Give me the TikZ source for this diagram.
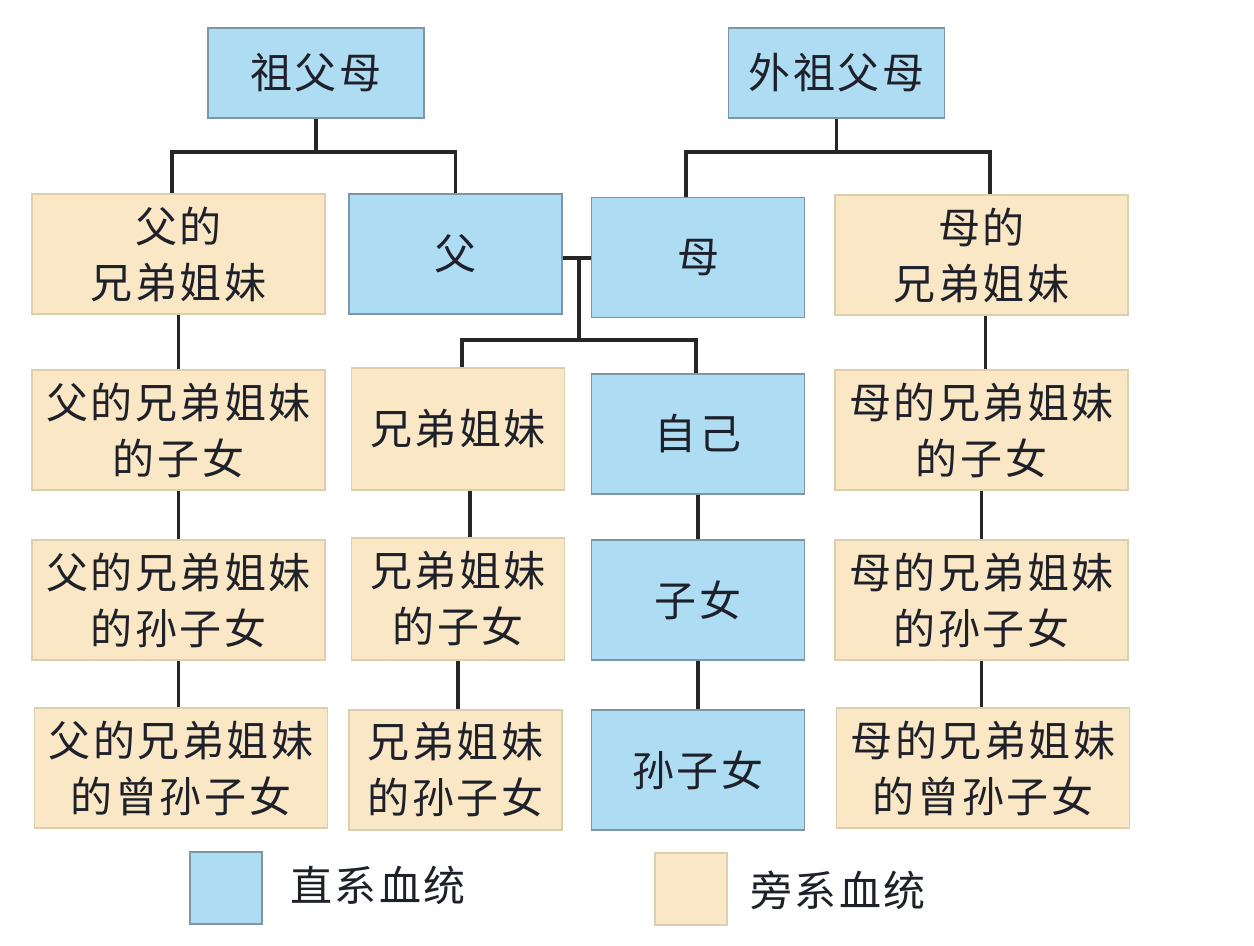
\documentclass[tikz,border=0pt]{standalone}
\usepackage{fontspec}
\newfontfamily\cjk[LetterSpace=6]{Noto Sans CJK SC}
\definecolor{bluefill}{RGB}{174,220,243}
\definecolor{blueedge}{RGB}{125,150,168}
\definecolor{tanfill}{RGB}{250,231,197}
\definecolor{tanedge}{RGB}{222,206,176}
\definecolor{ink}{RGB}{30,32,42}
\begin{document}
\begin{tikzpicture}[x=0.5pt,y=-0.5pt,
  box/.style={rectangle,draw,line width=0.8pt,inner sep=0pt,align=center,
    text=ink,font=\cjk\fontsize{21pt}{28pt}\selectfont},
  direct/.style={box,fill=bluefill,draw=blueedge},
  collat/.style={box,fill=tanfill,draw=tanedge},
  wide/.style={minimum width=146.5pt,minimum height=60pt},
  narrow/.style={minimum width=106.5pt,minimum height=60pt},
  topbox/.style={minimum width=108pt,minimum height=45pt},
  legendbox/.style={rectangle,inner sep=0pt,minimum width=36pt,minimum height=36pt,line width=0.8pt},
  legendtext/.style={anchor=west,inner sep=0pt,text=ink,font=\cjk\fontsize{21pt}{28pt}\selectfont},
  conn/.style={line width=1.9pt,draw=black!85}]

% canvas
\fill[white] (0,0) rectangle (1254,946);
\useasboundingbox (0,0) rectangle (1254,946);

% grandparents
\node[direct,topbox] (gp)  at (316,73)   {祖父母};
\node[direct,topbox] (wgp) at (836.5,73) {外祖父母};

% parents' generation
\node[collat,wide]   (fs)  at (178.5,254) {父的\\兄弟姐妹};
\node[direct,narrow] (fa)  at (455.5,254) {父};
\node[direct,narrow] (mo)  at (698,257.5) {母};
\node[collat,wide]   (ms)  at (981.5,255) {母的\\兄弟姐妹};

% own generation
\node[collat,wide]   (fs1)  at (178.5,430) {父的兄弟姐妹\\的子女};
\node[collat,narrow,minimum height=61pt] (sib) at (458,429) {兄弟姐妹};
\node[direct,narrow] (self) at (698,434)   {自己};
\node[collat,wide]   (ms1)  at (981.5,430) {母的兄弟姐妹\\的子女};

% children
\node[collat,wide]   (fs2)  at (178.5,600) {父的兄弟姐妹\\的孙子女};
\node[collat,narrow,minimum height=61pt] (sib1) at (458,599) {兄弟姐妹\\的子女};
\node[direct,narrow] (ch)   at (698,600)   {子女};
\node[collat,wide]   (ms2)  at (981.5,600) {母的兄弟姐妹\\的孙子女};

% grandchildren
\node[collat,wide]   (fs3)  at (181,768)   {父的兄弟姐妹\\的曾孙子女};
\node[collat,narrow] (sib2) at (455.5,770) {兄弟姐妹\\的孙子女};
\node[direct,narrow] (gch)  at (698,770)   {孙子女};
\node[collat,wide]   (ms3)  at (983,768)   {母的兄弟姐妹\\的曾孙子女};

% branch points
\coordinate (gpbar)  at (316,152);
\coordinate (wgpbar) at (836.5,152);
\coordinate (mar)    at (579,258);
\coordinate (kids)   at (579,340);

% paternal side
\draw[conn] (gp.south) -- (gpbar);
\draw[conn] ([xshift=-3.25pt]fs.north) |- (gpbar) -| (fa.north);

% maternal side
\draw[conn] (wgp.south) -- (wgpbar);
\draw[conn] ([xshift=-6pt]mo.north) |- (wgpbar) -| ([xshift=4.25pt]ms.north);

% marriage and children
\draw[conn] (fa.east |- mar) -- (mo.west |- mar);
\draw[conn] (mar) -- (kids);
\draw[conn] ([xshift=2pt]sib.north) |- (kids) -| ([xshift=-1pt]self.north);

% descent lines
\draw[conn] (fs.south)  -- (fs.south |- fs1.north);
\draw[conn] (fs1.south) -- (fs1.south |- fs2.north);
\draw[conn] (fs2.south) -- (fs2.south |- fs3.north);
\draw[conn] ([xshift=6pt]sib.south) -- ([xshift=6pt]sib.south |- sib1.north);
\draw[conn] (sib1.south) -- (sib1.south |- sib2.north);
\draw[conn] (self.south) -- (self.south |- ch.north);
\draw[conn] (ch.south) -- (ch.south |- gch.north);
\draw[conn] ([xshift=2pt]ms.south)  -- ([xshift=2pt]ms.south |- ms1.north);
\draw[conn] (ms1.south) -- (ms1.south |- ms2.north);
\draw[conn] (ms2.south) -- (ms2.south |- ms3.north);

% legend
\node[legendbox,fill=bluefill,draw=blueedge] (keyd) at (226,888) {};
\node[legendtext] (keydt) at (290,885) {直系血统};
\node[legendbox,fill=tanfill,draw=tanedge] (keyc) at (691,889) {};
\node[legendtext] (keyct) at (750,890) {旁系血统};
\end{tikzpicture}
\end{document}
